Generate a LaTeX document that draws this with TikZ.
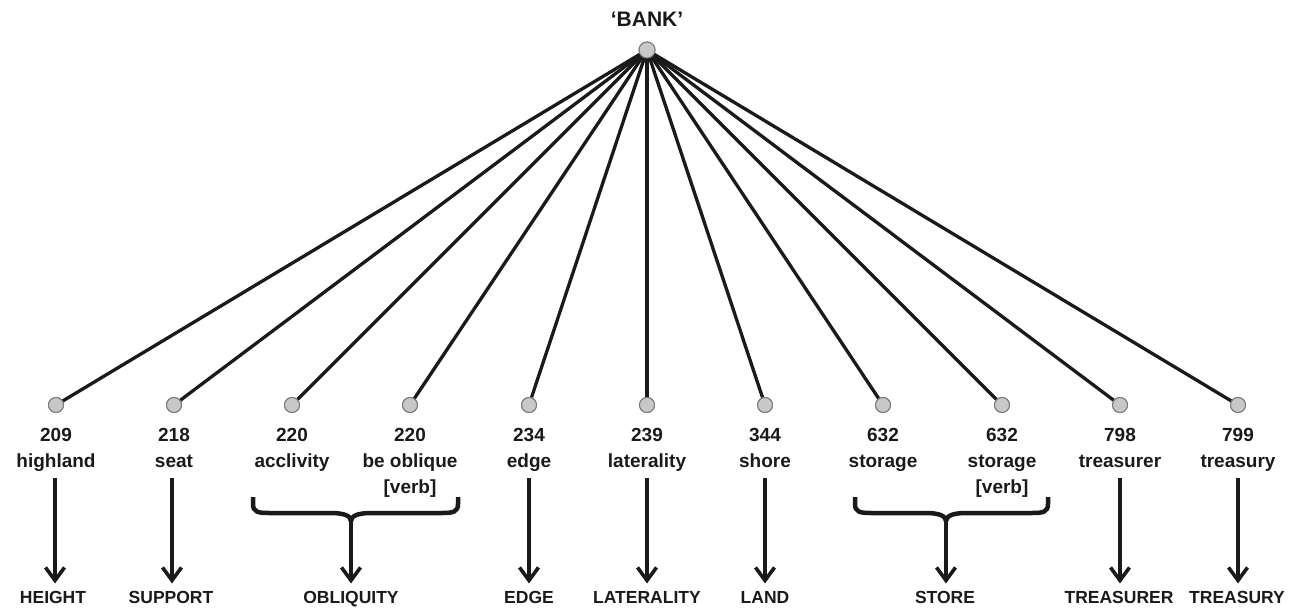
\documentclass[tikz,border=0pt]{standalone}
\usepackage{fontspec}
\setmainfont{Liberation Sans}
\usetikzlibrary{arrows.meta}
\definecolor{ink}{HTML}{1A1A1A}
\definecolor{dotfill}{HTML}{C8C8C8}
\definecolor{dotline}{HTML}{7A7A7A}
\newcommand\mybrace[4]{% name, left, mid, right
  \draw[brc] (#2,497) -- (#2,504) .. controls (#2,512) and ({#2+5},513) .. ({#2+16},513)
    -- ({#3-20},513) .. controls ({#3-7},513) and (#3,516) .. (#3,521)
    .. controls (#3,516) and ({#3+7},513) .. ({#3+20},513)
    -- ({#4-16},513) .. controls ({#4-5},513) and (#4,512) .. (#4,504) -- (#4,497);
  \coordinate (#1) at (#3,521);}
\begin{document}
\begin{tikzpicture}[x=1pt,y=-1pt,
  dot/.style={circle,draw=dotline,fill=dotfill,line width=1pt,minimum size=15pt,inner sep=0pt},
  spoke/.style={draw=ink,line width=3.3pt},
  lbl/.style={font=\fontsize{19}{26}\selectfont\bfseries,align=center,inner sep=0pt,anchor=north,text=ink},
  cat/.style={font=\fontsize{17.5}{22}\selectfont\bfseries,inner sep=0pt,anchor=north,text=ink},
  arr/.style={draw=ink,line width=3.6pt,-{Straight Barb[length=13pt,width=19pt]},shorten >=8pt},
  brc/.style={draw=ink,line width=4.5pt,line cap=butt,line join=round}]
\useasboundingbox (0,0) rectangle (1296,610);
% root
\node[cat,font=\fontsize{21}{24}\selectfont\bfseries] (bank) at (647,12) {‘BANK’};
\node[dot,minimum size=16pt] (r) at (647,50) {};
% leaves
\foreach \i/\x in {1/56,2/174,3/292,4/410,5/529,6/647,7/765,8/883,9/1002,10/1120,11/1238}{
  \node[dot] (l\i) at (\x,405) {};
  \draw[spoke] (r) -- (l\i);
  \node[dot] at (\x,405) {};
}
\node[dot,minimum size=16pt] at (647,50) {};
% labels
\node[lbl] (t1) at (56,428) {209\\highland};
\node[lbl] (t2) at (174,428) {218\\seat};
\node[lbl] (t3) at (292,428) {220\\acclivity};
\node[lbl] (t4) at (410,428) {220\\be oblique\\{}[verb]};
\node[lbl] (t5) at (529,428) {234\\edge};
\node[lbl] (t6) at (647,428) {239\\laterality};
\node[lbl] (t7) at (765,428) {344\\shore};
\node[lbl] (t8) at (883,428) {632\\storage};
\node[lbl] (t9) at (1002,428) {632\\storage\\{}[verb]};
\node[lbl] (t10) at (1120,428) {798\\treasurer};
\node[lbl] (t11) at (1238,428) {799\\treasury};
% categories
\node[cat] (c1) at (53,591.5) {HEIGHT};
\node[cat] (c2) at (171,591.5) {SUPPORT};
\node[cat] (c3) at (351,591.5) {OBLIQUITY};
\node[cat] (c5) at (529,591.5) {EDGE};
\node[cat] (c6) at (647,591.5) {LATERALITY};
\node[cat] (c7) at (765,591.5) {LAND};
\node[cat] (c8) at (945,591.5) {STORE};
\node[cat] (c10) at (1119,591.5) {TREASURER};
\node[cat] (c11) at (1237,591.5) {TREASURY};
% arrow starts
\foreach \i/\x in {1/55,2/172,5/529,6/647,7/765,10/1120,11/1238}{
  \coordinate (s\i) at (\x,478);
}
\mybrace{b3}{253}{351}{458}
\mybrace{b8}{855}{946}{1048}
\foreach \i/\c in {1/1,2/2,5/5,6/6,7/7,10/10,11/11}{
  \draw[arr] (s\i) -- (s\i |- c\c.north);
}
\draw[arr] (b3) -- (b3 |- c3.north);
\draw[arr] (b8) -- (b8 |- c8.north);
\end{tikzpicture}
\end{document}
